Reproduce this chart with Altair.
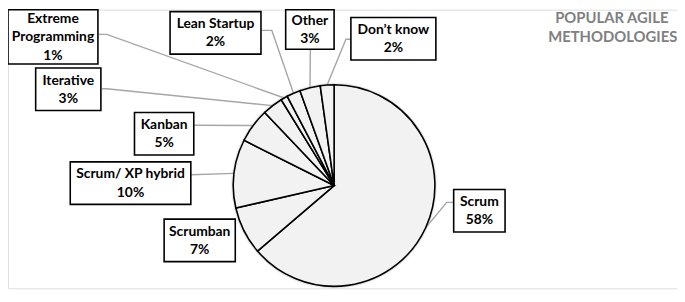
import math
import altair as alt
import pandas as pd

# ---- data ----
categories = ["Scrum", "Scrumban", "Scrum/ XP hybrid", "Kanban", "Iterative",
              "Extreme Programming", "Lean Startup", "Other", "Don\u2019t know"]
values = [58, 7, 10, 5, 3, 1, 2, 3, 2]
label_names = [["Scrum"], ["Scrumban"], ["Scrum/ XP hybrid"], ["Kanban"], ["Iterative"],
               ["Extreme", "Programming"], ["Lean Startup"], ["Other"], ["Don\u2019t know"]]
title_lines = ["POPULAR AGILE", "METHODOLOGIES"]

# ---- layout (screen pixel coordinates) ----
W, H = 685, 290
CX, CY, R = 338, 186, 102
LH = 18.5
# label boxes: x0, x1, y0, y1
boxes = [
    (459, 511, 190, 233),   # Scrum
    (166, 238, 220, 263),   # Scrumban
    (71, 193, 162, 205),    # Scrum/XP hybrid
    (136, 196, 112, 155),   # Kanban
    (36, 102, 67, 110),     # Iterative
    (8, 99, 8, 63),         # Extreme Programming
    (172, 264, 10, 53),     # Lean Startup
    (289, 338, 8, 48),      # Other
    (355, 441, 16, 59),     # Don't know
]
# leader line start points (from box towards pie); empty = no leader
leader_starts = [
    [(459, 203), (452, 203)],
    [],
    [(193, 175)],
    [(196, 125)],
    [(103, 88), (108, 88)],
    [(100, 33), (108, 33)],
    [(265, 29), (275, 29)],
    [(314, 48)],
    [(355, 38), (350, 38)],
]

total = sum(values)
df = pd.DataFrame({
    "category": categories,
    "value": values,
    "idx": list(range(len(values))),
    "cx": [CX] * len(values),
    "cy": [CY] * len(values),
})

# label boxes and text lines
box_rows, text_rows = [], []
for i, (c, v, b) in enumerate(zip(categories, values, boxes)):
    x0, x1, y0, y1 = b
    box_rows.append({"category": c, "x0": x0, "x1": x1, "y0": y0, "y1": y1})
    lines_txt = label_names[i] + [f"{v}%"]
    n = len(lines_txt)
    yc = (y0 + y1) / 2 + 0.5
    for k, t in enumerate(lines_txt):
        text_rows.append({"category": c, "x": (x0 + x1) / 2,
                          "y": yc + (k - (n - 1) / 2) * LH, "text": t})
boxes_df = pd.DataFrame(box_rows)
texts_df = pd.DataFrame(text_rows)

# leader lines: to mid-angle point on pie edge, derived from data
line_rows = []
cum = 0
for i, v in enumerate(values):
    a = (cum + v / 2) / total * 2 * math.pi
    cum += v
    pts = leader_starts[i]
    if not pts:
        continue
    px = CX + R * math.sin(a)
    py = CY - R * math.cos(a)
    allpts = pts + [(px, py)]
    for k, (x, y) in enumerate(allpts):
        line_rows.append({"category": categories[i], "seq": k, "x": x, "y": y})
lines = pd.DataFrame(line_rows)

title_df = pd.DataFrame({"t": title_lines, "x": [619, 620], "y": [16, 35.5]})

xs = alt.Scale(domain=[8, W], nice=False, zero=False)
ys = alt.Scale(domain=[8, H], nice=False, zero=False, reverse=True)

leaders = alt.Chart(lines).mark_line(color="#a6a6a6", strokeWidth=1.4).encode(
    x=alt.X("x:Q", scale=xs, axis=None),
    y=alt.Y("y:Q", scale=ys, axis=None),
    detail="category:N",
    order="seq:Q",
)

shadow = alt.Chart(df).mark_arc(
    outerRadius=R + 2, fill="#bfbfbf", opacity=0.35
).encode(
    theta=alt.Theta("value:Q", stack=True),
    order=alt.Order("idx:Q"),
    x=alt.X("cx:Q", scale=xs, axis=None),
    y=alt.Y("cy:Q", scale=ys, axis=None),
)

pie = alt.Chart(df).mark_arc(
    outerRadius=R, fill="#f2f2f2", stroke="#000000", strokeWidth=1.6
).encode(
    theta=alt.Theta("value:Q", stack=True),
    order=alt.Order("idx:Q"),
    x=alt.X("cx:Q", scale=xs, axis=None),
    y=alt.Y("cy:Q", scale=ys, axis=None),
)

rects = alt.Chart(boxes_df).mark_rect(
    fill="white", stroke="black", strokeWidth=1.6
).encode(
    x=alt.X("x0:Q", scale=xs, axis=None), x2="x1:Q",
    y=alt.Y("y0:Q", scale=ys, axis=None), y2="y1:Q",
)

texts = alt.Chart(texts_df).mark_text(
    font="Lato", fontWeight="bold", fontSize=14,
    baseline="middle", align="center", color="black"
).encode(
    x=alt.X("x:Q", scale=xs, axis=None),
    y=alt.Y("y:Q", scale=ys, axis=None),
    text="text:N",
)

title = alt.Chart(title_df).mark_text(
    font="Lato", fontWeight="bold", fontSize=15,
    baseline="middle", align="center", color="#808080"
).encode(
    x=alt.X("x:Q", scale=xs, axis=None),
    y=alt.Y("y:Q", scale=ys, axis=None),
    text="t:N",
)

chart = alt.layer(leaders, shadow, pie, rects, texts, title).properties(
    width=W - 8, height=H - 8, padding=0,
    autosize=alt.AutoSizeParams(type="none"),
).configure_view(stroke=None).configure(background="white")

chart.save("out.html", embed_options={"renderer": "svg", "actions": False})
